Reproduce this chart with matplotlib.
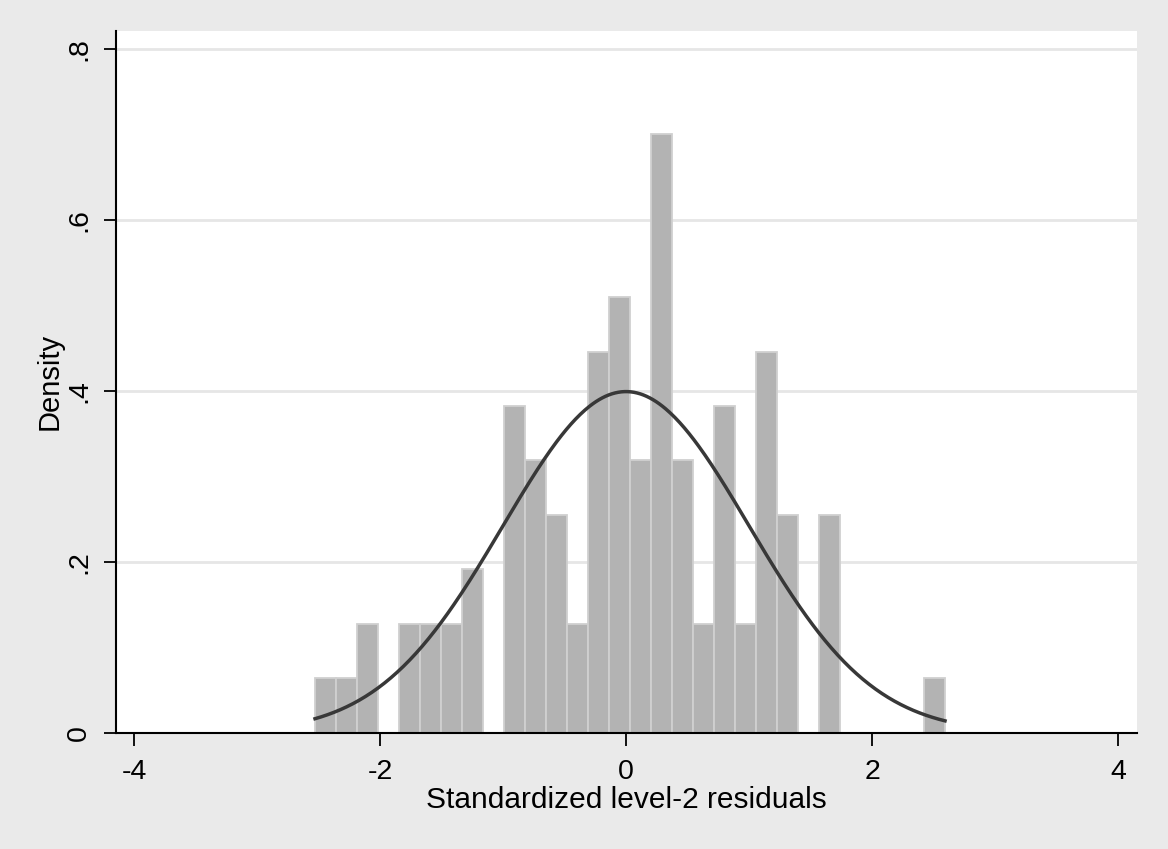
import numpy as np
import matplotlib
matplotlib.use("Agg")
import matplotlib.pyplot as plt

# Histogram data (30 equal-width bins)
bin_start = -2.528
bin_width = 0.1707
counts = [1, 1, 2, 0, 2, 2, 2, 3, 0, 6, 5, 4, 2, 7, 8, 5, 11, 5, 2, 6, 2, 7, 4, 0, 4, 0, 0, 0, 0, 1]

x_ticks = [-4, -2, 0, 2, 4]
x_ticklabels = ["-4", "-2", "0", "2", "4"]
y_ticks = [0, 0.2, 0.4, 0.6, 0.8]
y_ticklabels = ["0", ".2", ".4", ".6", ".8"]

plt.rcParams['font.family'] = ['Liberation Sans', 'DejaVu Sans']

fig = plt.figure(figsize=(11.68, 8.49), dpi=100)
fig.patch.set_facecolor('#eaeaea')
ax = fig.add_axes([0.0993, 0.137, 0.8742, 0.8265])
ax.set_facecolor('white')

edges = bin_start + bin_width * np.arange(len(counts) + 1)
centers = (edges[:-1] + edges[1:]) / 2
ax.hist(centers, bins=edges, weights=counts, density=True,
        color='#b3b3b3', edgecolor='#d0d0d0', linewidth=1.3, zorder=2)

xs = np.linspace(edges[0], edges[-1], 400)
ax.plot(xs, np.exp(-xs**2 / 2) / np.sqrt(2 * np.pi), color='#383838', lw=2.5, zorder=3)

ax.set_xlim(-4.146, 4.154)
ax.set_ylim(0, 0.8207)
ax.set_xticks(x_ticks)
ax.set_xticklabels(x_ticklabels)
ax.set_yticks(y_ticks)
ax.set_yticklabels(y_ticklabels, rotation=90, va='center')

ax.yaxis.grid(True, color='#e6e6e6', lw=2, zorder=0)
ax.set_axisbelow(True)
for s in ['top', 'right']:
    ax.spines[s].set_visible(False)
for s in ['left', 'bottom']:
    ax.spines[s].set_linewidth(1.5)
    ax.spines[s].set_color('black')

ax.tick_params(axis='both', direction='out', length=9, width=1.3, labelsize=20.5, colors='black')
ax.tick_params(axis='x', pad=10)
ax.tick_params(axis='y', pad=8)

ax.set_xlabel("Standardized level-2 residuals", fontsize=21.5, labelpad=1)
ax.set_ylabel("Density", fontsize=21, labelpad=2)

fig.savefig("out.png", dpi=100, facecolor=fig.get_facecolor())
